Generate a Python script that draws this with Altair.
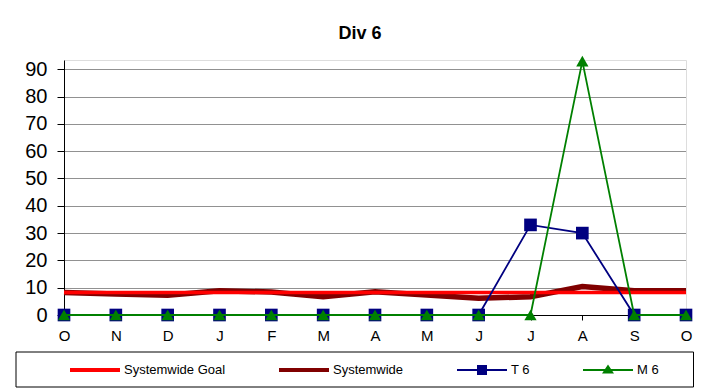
import json
import altair as alt
import pandas as pd

# ---- data ----
months = ["O", "N", "D", "J", "F", "M", "A", "M", "J", "J", "A", "S", "O"]
goal = [8.2, 8.2, 8.2, 8.2, 8.2, 8.2, 8.2, 8.2, 8.2, 8.2, 8.2, 8.2, 8.2]
systemwide = [8.2, 7.7, 7.2, 8.9, 8.4, 6.7, 8.5, 7.3, 6.1, 6.7, 10.4, 8.9, 8.9]
t6 = [0, 0, 0, 0, 0, 0, 0, 0, 0, 33, 30, 0, 0]
m6 = [0, 0, 0, 0, 0, 0, 0, 0, 0, 0, 93, 0, 0]
series_names = ["Systemwide Goal", "Systemwide", "T 6", "M 6"]
y_ticks = [0, 10, 20, 30, 40, 50, 60, 70, 80, 90]

colors = ["#ff0000", "#800000", "#000080", "#008000"]
legend_shapes = [
    "M-1,-0.08H1V0.08H-1Z",
    "M-1,-0.08H1V0.08H-1Z",
    "M-1,-0.04H1V0.04H-1Z M-0.2,-0.2H0.2V0.2H-0.2Z",
    "M-1,-0.04H1V0.04H-1Z M0,-0.22L0.24,0.14L-0.24,0.14Z",
]

idx = list(range(len(months)))
df = pd.DataFrame({
    "idx": idx * 4,
    "value": goal + systemwide + t6 + m6,
    "series": sum([[s] * len(months) for s in series_names], []),
})

label_expr = json.dumps(months) + "[datum.value]"
FONT = "Liberation Sans"

x_enc = alt.X(
    "idx:O",
    scale=alt.Scale(type="point", padding=0),
    axis=alt.Axis(
        title=None, labelExpr=label_expr, labelAngle=0, labelFontSize=15,
        labelFont=FONT, labelColor="black", labelPadding=8, tickSize=5,
        tickColor="black", domainColor="black", grid=False,
    ),
)
y_enc = alt.Y(
    "value:Q",
    scale=alt.Scale(domain=[0, 93.4], nice=False),
    axis=alt.Axis(
        title=None, values=y_ticks, labelFontSize=20, labelFont=FONT,
        labelColor="black", labelPadding=10, tickSize=7, tickColor="black",
        domainColor="black", grid=True, gridColor="#222222", gridDash=[1, 1],
        gridWidth=1,
    ),
)

base = alt.Chart(df).encode(x=x_enc, y=y_enc)

sys_line = base.transform_filter(alt.datum.series == "Systemwide").mark_line(
    color="#800000", strokeWidth=5.5)
goal_line = base.transform_filter(alt.datum.series == "Systemwide Goal").mark_line(
    color="#ff0000", strokeWidth=3.5)
t6_line = base.transform_filter(alt.datum.series == "T 6").mark_line(
    color="#000080", strokeWidth=1.8)
t6_pts = base.transform_filter(alt.datum.series == "T 6").mark_point(
    shape="square", filled=True, color="#000080", size=160, opacity=1)
m6_line = base.transform_filter(alt.datum.series == "M 6").mark_line(
    color="#008000", strokeWidth=1.8)
m6_pts = base.transform_filter(alt.datum.series == "M 6").mark_point(
    shape="triangle-up", filled=True, color="#008000", size=150, opacity=1)

legend_props = dict(
    title=None, orient="none", legendX=6, legendY=285,
    direction="horizontal", columns=4, columnPadding=53,
    symbolSize=2500, symbolStrokeWidth=0, symbolOpacity=1,
    labelFontSize=13, labelFont=FONT, labelColor="black",
    labelOffset=4, padding=0,
)

legend_layer = base.mark_point(filled=True, opacity=0).encode(
    color=alt.Color(
        "series:N",
        scale=alt.Scale(domain=series_names, range=colors),
        legend=alt.Legend(**legend_props),
    ),
    shape=alt.Shape(
        "series:N",
        scale=alt.Scale(domain=series_names, range=legend_shapes),
        legend=alt.Legend(**legend_props),
    ),
)

frame = alt.Chart(pd.DataFrame({"a": [0]})).mark_rect(
    fill=None, stroke="black", strokeWidth=1).encode(
    x=alt.value(-48), x2=alt.value(629.5), y=alt.value(292), y2=alt.value(327))

chart = alt.layer(
    sys_line, goal_line, t6_line, t6_pts, m6_line, m6_pts, legend_layer, frame
).properties(
    width=622, height=255,
    title=alt.TitleParams("Div 6", fontSize=18, font=FONT, fontWeight="bold",
                          anchor="middle", dx=-15, offset=13, color="black"),
    autosize=alt.AutoSizeParams(type="none"),
    padding={"left": 56, "top": 52, "right": 8, "bottom": 75},
).configure_view(
    stroke="#999999", strokeWidth=2
).configure(background="white")

chart.save("out.html", embed_options={"renderer": "svg", "actions": False})
